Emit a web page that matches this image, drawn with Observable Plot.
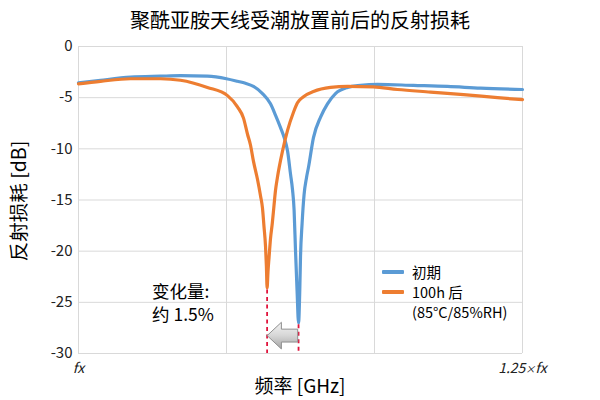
<!DOCTYPE html>
<html>
<head>
<meta charset="utf-8">
<script src="https://cdn.jsdelivr.net/npm/d3@7"></script>
<script src="https://cdn.jsdelivr.net/npm/@observablehq/plot@0.6"></script>
<style>
  html, body { margin: 0; padding: 0; background: #fff; }
  #wrap { position: relative; width: 600px; height: 400px; overflow: hidden; font-family: "Noto Sans CJK SC", "Noto Sans", sans-serif; color: #000; }
  #title { position: absolute; top: 9px; left: 0; width: 600px; text-align: center; font-size: 20px; line-height: 22px; }
  #chart { position: absolute; top: 30px; left: 0; }
  .ov { position: absolute; white-space: nowrap; }
  #ylab { left: 18px; top: 201px; font-size: 19.5px; line-height: 20px; transform: translate(-50%, -50%) rotate(-90deg); }
  #xlab { left: 300px; top: 385px; font-size: 19px; line-height: 20px; transform: translate(-50%, -50%); }
  .note { left: 152px; font-size: 17.5px; line-height: 19px; }
  #note1 { top: 281px; }
  #note2 { top: 304px; }
  #legend { left: 382px; top: 262px; font-size: 14.5px; line-height: 20px; }
  #legend .row { display: flex; align-items: center; height: 20px; }
  #legend .sw { width: 22px; height: 4px; margin-right: 8px; border-radius: 1px; }
</style>
</head>
<body>
<div id="wrap">
  <div id="title">聚酰亚胺天线受潮放置前后的反射损耗</div>
  <div id="chart"></div>
  <div class="ov" id="ylab">反射损耗 [dB]</div>
  <div class="ov" id="xlab">频率 [GHz]</div>
  <div class="ov note" id="note1">变化量:</div>
  <div class="ov note" id="note2">约 1.5%</div>
  <div class="ov" id="legend"></div>
</div>
<script>
// frequency expressed as f / fx
const seriesNames = ["初期", "100h 后"];
const seriesColors = ["#5b9bd5", "#ed7d31"];
const legendNote = "(85°C/85%RH)";

const initialFreq = [1.0000, 1.0124, 1.0293, 1.0462, 1.0574, 1.0726, 1.0833, 1.0895, 1.0940, 1.0985,
  1.1036, 1.1081, 1.1109, 1.1137, 1.1160, 1.1177, 1.1194, 1.1205, 1.1214, 1.1222,
  1.1231, 1.1239, 1.1246, 1.1250, 1.1259, 1.1270, 1.1284, 1.1295, 1.1323, 1.1363,
  1.1402, 1.1447, 1.1515, 1.1588, 1.1684, 1.1886, 1.2078, 1.2264, 1.2500];
const initialDB = [-3.55, -3.3, -3.0, -2.9, -2.85, -2.9, -3.15, -3.4, -3.6, -3.9,
  -4.6, -5.6, -6.7, -7.9, -9.0, -10.2, -12.5, -14.0, -16.0, -20.0,
  -24.0, -27.0, -23.8, -20.6, -17.3, -14.5, -12.8, -11.8, -8.9, -6.9,
  -5.6, -4.6, -4.0, -3.8, -3.7, -3.8, -3.9, -4.07, -4.2];

const agedFreq = [1.0000, 1.0124, 1.0293, 1.0462, 1.0574, 1.0726, 1.0839, 1.0895, 1.0929, 1.0952,
  1.0968, 1.0985, 1.1008, 1.1025, 1.1036, 1.1044, 1.1053, 1.1058, 1.1062, 1.1067,
  1.1073, 1.1081, 1.1091, 1.1101, 1.1109, 1.1120, 1.1149, 1.1177, 1.1211, 1.1233,
  1.1267, 1.1323, 1.1419, 1.1515, 1.1661, 1.1796, 1.1982, 1.2168, 1.2359, 1.2500];
const agedDB = [-3.65, -3.4, -3.15, -3.15, -3.3, -4.0, -4.8, -5.9, -7.0, -8.6,
  -9.6, -11.2, -13.0, -14.6, -15.8, -17.5, -19.5, -21.5, -23.6, -22.0,
  -20.6, -18.8, -17.3, -15.5, -14.1, -12.8, -10.2, -8.2, -6.4, -5.5,
  -4.9, -4.4, -4.0, -3.9, -3.95, -4.2, -4.45, -4.7, -5.0, -5.2];

const yTicks = [0, -5, -10, -15, -20, -25, -30];
const xGrid = [1, 1 + 1/12, 1 + 2/12, 1.25];
const xTicks = [1, 1.25];
const xTickLabels = ["fx", "1.25×fx"];

const initial = initialFreq.map((f, i) => ({f, db: initialDB[i], s: seriesNames[0]}));
const aged = agedFreq.map((f, i) => ({f, db: agedDB[i], s: seriesNames[1]}));

const minOf = arr => arr.reduce((a, b) => (b.db < a.db ? b : a));
const minI = minOf(initial), minA = minOf(aged);
const dips = [minA, minI];

// block arrow (from initial dip toward aged dip), built from the dip frequencies
const yc = -28.3, headH = 1.3, shaftH = 0.63;
const headLen = (minI.f - minA.f) * 0.47;
const arrow = [
  {f: minA.f + 0.0003, lo: yc, hi: yc},
  {f: minA.f + headLen, lo: yc - headH, hi: yc + headH},
  {f: minA.f + headLen + 0.00001, lo: yc - shaftH, hi: yc + shaftH},
  {f: minI.f - 0.0002, lo: yc - shaftH, hi: yc + shaftH}
];

const plot = Plot.plot({
  width: 600,
  height: 370,
  marginLeft: 78,
  marginRight: 78,
  marginTop: 16,
  marginBottom: 47,
  style: {fontFamily: "'Noto Sans CJK SC', 'Noto Sans', sans-serif", background: "transparent"},
  x: {domain: [1, 1.25]},
  y: {domain: [-30, 0]},
  marks: [
    Plot.gridX(xGrid, {stroke: "#d9d9d9", strokeOpacity: 1, strokeWidth: 1}),
    Plot.gridY(yTicks, {stroke: "#d9d9d9", strokeOpacity: 1, strokeWidth: 1}),
    Plot.axisY(yTicks, {tickSize: 0, tickPadding: 6, fontSize: 15, fill: "#222", tickFormat: d => String(d), label: null}),
    Plot.axisX(xTicks, {tickSize: 0, tickPadding: 10, fontSize: 14, fontStyle: "italic", fill: "#222",
      tickFormat: (d, i) => xTickLabels[i], label: null}),
    Plot.line(initial, {x: "f", y: "db", stroke: seriesColors[0], strokeWidth: 3.2, strokeLinejoin: "round", strokeLinecap: "round", curve: "monotone-x"}),
    Plot.line(aged, {x: "f", y: "db", stroke: seriesColors[1], strokeWidth: 3.2, strokeLinejoin: "round", strokeLinecap: "round", curve: "monotone-x"}),
    Plot.ruleX(dips, {x: "f", y1: d => d.db - 0.2, y2: -30, stroke: "#e0143c", strokeWidth: 1.8, strokeDasharray: "4,3.5"}),
    Plot.areaY(arrow, {x: "f", y1: "lo", y2: "hi", fill: "url(#arrowGrad)", stroke: "#8f8f8f", strokeWidth: 1, curve: "linear"})
  ]
});

// gradient for the block arrow
const ns = "http://www.w3.org/2000/svg";
const defs = document.createElementNS(ns, "defs");
defs.innerHTML = '<linearGradient id="arrowGrad" x1="0" y1="0" x2="0" y2="1">' +
  '<stop offset="0" stop-color="#f4f4f4"/><stop offset="0.5" stop-color="#d6d6d6"/><stop offset="1" stop-color="#a5a5a5"/></linearGradient>';
plot.insertBefore(defs, plot.firstChild);

// make the "×" in the right tick label small, as in the reference
plot.querySelectorAll("text").forEach(t => {
  if (t.textContent === xTickLabels[1]) {
    const [a, b] = xTickLabels[1].split("×");
    t.textContent = "";
    const s1 = document.createElementNS(ns, "tspan"); s1.textContent = a;
    const s2 = document.createElementNS(ns, "tspan"); s2.textContent = "×"; s2.setAttribute("font-size", "10");
    const s3 = document.createElementNS(ns, "tspan"); s3.textContent = b;
    t.append(s1, s2, s3);
  }
});
document.getElementById("chart").appendChild(plot);

// legend
const legend = document.getElementById("legend");
seriesNames.forEach((n, i) => {
  const row = document.createElement("div");
  row.className = "row";
  row.innerHTML = `<span class="sw" style="background:${seriesColors[i]}"></span><span>${n}</span>`;
  legend.appendChild(row);
});
const noteRow = document.createElement("div");
noteRow.style.paddingLeft = "30px";
noteRow.textContent = legendNote;
legend.appendChild(noteRow);
</script>
</body>
</html>
